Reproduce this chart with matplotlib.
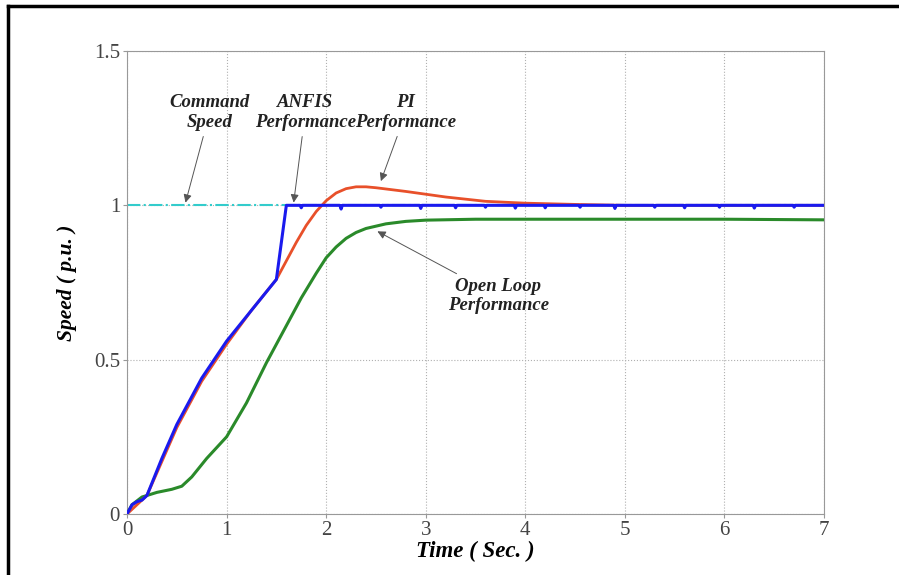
import numpy as np
import matplotlib.pyplot as plt
from matplotlib.lines import Line2D

# command speed
cmd_t = [0, 7]
cmd_v = [1.0, 1.0]

# ANFIS response (ramp part), flat part built from the spike list below
anfis_t = [0, 0.05, 0.1, 0.15, 0.2, 0.35, 0.5, 0.75, 1.0, 1.25, 1.5, 1.55, 1.6]
anfis_v = [0, 0.03, 0.04, 0.045, 0.06, 0.18, 0.29, 0.44, 0.56, 0.66, 0.76, 0.88, 1.0]
spike_t = [1.75, 2.15, 2.55, 2.95, 3.3, 3.6, 3.9, 4.2, 4.55, 4.9, 5.3, 5.6, 5.95, 6.3, 6.7]
spike_d = [0.008, 0.012, 0.006, 0.01, 0.008, 0.006, 0.009, 0.008, 0.006, 0.01, 0.006, 0.008, 0.006, 0.009, 0.006]

# PI response
pi_t = [0, 0.1, 0.2, 0.35, 0.5, 0.75, 1.0, 1.25, 1.5, 1.7, 1.8, 1.9, 2.0, 2.1, 2.2, 2.3, 2.4, 2.5,
        2.8, 3.2, 3.6, 4.0, 4.5, 5.0, 6.0, 7.0]
pi_v = [0, 0.03, 0.06, 0.17, 0.28, 0.43, 0.55, 0.66, 0.76, 0.88, 0.935, 0.98, 1.015, 1.04, 1.054, 1.06, 1.06, 1.057,
        1.045, 1.027, 1.013, 1.007, 1.003, 1.0, 1.0, 1.0]

# open loop response
ol_t = [0, 0.05, 0.15, 0.3, 0.45, 0.55, 0.65, 0.8, 1.0, 1.2, 1.4, 1.6, 1.75, 1.9, 2.0, 2.1,
        2.2, 2.3, 2.4, 2.6, 2.8, 3.0, 3.5, 4.0, 5.0, 6.0, 7.0]
ol_v = [0, 0.03, 0.055, 0.07, 0.08, 0.09, 0.12, 0.18, 0.25, 0.36, 0.49, 0.61, 0.70, 0.78, 0.83, 0.865,
        0.893, 0.912, 0.925, 0.94, 0.948, 0.952, 0.955, 0.955, 0.955, 0.955, 0.953]

x_ticks = [0, 1, 2, 3, 4, 5, 6, 7]
y_ticks = [0, 0.5, 1, 1.5]
y_labels = ['0', '0.5', '1', '1.5']

# build flat ANFIS part with small dips
ft = list(anfis_t)
fv = list(anfis_v)
for st, sd in zip(spike_t, spike_d):
    ft += [st - 0.012, st, st + 0.012]
    fv += [1.0, 1.0 - sd, 1.0]
ft.append(7.0)
fv.append(1.0)

plt.rcParams['font.family'] = ['Liberation Serif', 'DejaVu Serif']

fig = plt.figure(figsize=(8.99, 5.75), dpi=100)
ax = fig.add_axes([0.1413, 0.1061, 0.7753, 0.8052])

ax.plot(cmd_t, cmd_v, color='#33cccc', lw=1.5, ls='-.', zorder=2)
ax.plot(ol_t, ol_v, color='#2a8a2a', lw=2.2, zorder=3)
ax.plot(pi_t, pi_v, color='#e8502a', lw=2.0, zorder=3)
ax.plot(ft, fv, color='#1a1aee', lw=2.2, zorder=4)

ax.set_xlim(0, 7)
ax.set_ylim(0, 1.5)
ax.set_xticks(x_ticks)
ax.set_yticks(y_ticks)
ax.set_yticklabels(y_labels)
ax.grid(True, ls=':', color='#b0b0b0', lw=0.8)
for s in ax.spines.values():
    s.set_color('#999999')
ax.tick_params(colors='#444444', labelsize=15, length=3, color='#999999', pad=2)

ax.set_xlabel('Time ( Sec. )', fontsize=16.5, style='italic', weight='bold', labelpad=1)
ax.set_ylabel('Speed ( p.u. )', fontsize=15.5, style='italic', weight='bold', labelpad=12)

txt = dict(fontsize=13.5, style='italic', weight='bold', color='#222222', ha='center', va='center',
           linespacing=1.2)
arr = dict(arrowstyle='-|>', color='#555555', lw=0.7, mutation_scale=12)
ax.annotate('Command\nSpeed', xy=(0.58, 1.0), xytext=(0.83, 1.30), arrowprops=arr, **txt)
ax.annotate('ANFIS\nPerformance', xy=(1.67, 1.0), xytext=(1.79, 1.30), arrowprops=arr, **txt)
ax.annotate('PI\nPerformance', xy=(2.54, 1.07), xytext=(2.8, 1.30), arrowprops=arr, **txt)
ax.annotate('Open Loop\nPerformance', xy=(2.49, 0.92), xytext=(3.73, 0.706), arrowprops=arr, **txt)

# outer frame
fig.add_artist(Line2D([8 / 899, 8 / 899], [0, 1 - 6 / 575], color='black', lw=2.5,
                      transform=fig.transFigure))
fig.add_artist(Line2D([8 / 899, 1], [1 - 6 / 575, 1 - 6 / 575], color='black', lw=2.5,
                      transform=fig.transFigure))

fig.savefig('out.png', dpi=100)
